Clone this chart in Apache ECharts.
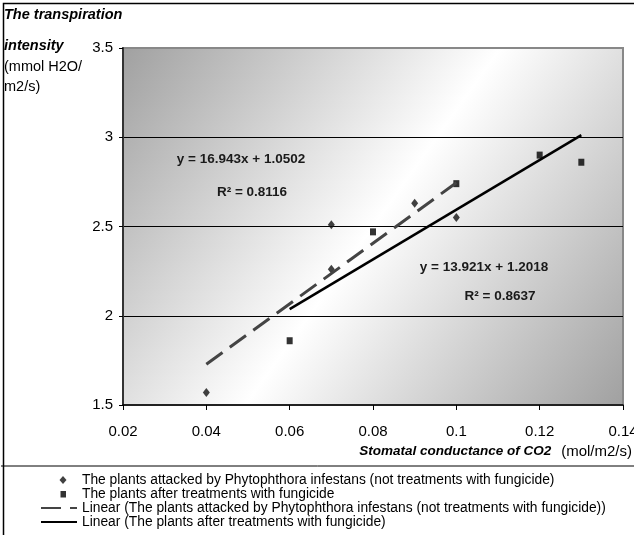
<!DOCTYPE html>
<html><head><meta charset="utf-8">
<script src="https://cdn.jsdelivr.net/npm/echarts@6/dist/echarts.min.js"></script>
<style>html,body{margin:0;padding:0;background:#fff}#c{width:634px;height:535px}</style>
</head><body><div id="c"></div><script>
// Data
const attackedX = [0.04, 0.07, 0.07, 0.09, 0.10];
const attackedY = [1.57, 2.51, 2.26, 2.63, 2.55];
const treatedX = [0.06, 0.08, 0.10, 0.12, 0.13];
const treatedY = [1.86, 2.47, 2.74, 2.90, 2.86];
const trendAttackedX = [0.04, 0.10];
const trendAttackedY = [1.728, 2.745];
const trendTreatedX = [0.06, 0.13];
const trendTreatedY = [2.037, 3.012];
const xTicks = [0.02, 0.04, 0.06, 0.08, 0.1, 0.12, 0.14];
const yTicks = [1.5, 2, 2.5, 3, 3.5];
const seriesNames = [
  'The plants attacked by Phytophthora infestans (not treatments with fungicide)',
  'The plants after treatments with fungicide',
  'Linear (The plants attacked by Phytophthora infestans (not treatments with fungicide))',
  'Linear (The plants after treatments with fungicide)'
];
const yTitleLines = ['The transpiration', 'intensity', '(mmol H2O/', 'm2/s)'];
const xTitleParts = ['Stomatal conductance of CO2', '(mol/m2/s)'];
const eq1 = ['y = 16.943x + 1.0502', 'R² = 0.8116'];
const eq2 = ['y = 13.921x + 1.2018', 'R² = 0.8637'];

const FONT = "'Liberation Sans', Arial, sans-serif";
const zip = (xs, ys) => xs.map((x, i) => [x, ys[i]]);
const eqStyle = t => ({text: t, align: 'center', verticalAlign: 'middle', fontFamily: FONT, fontSize: 13.5, fontWeight: 'bold', fill: '#1a1a1a'});
const yTitle = (t, y, bold) => ({type: 'text', x: 4, y: y, silent: true,
  style: {text: t, verticalAlign: 'middle', fontFamily: FONT, fontSize: 14.5,
    fontWeight: bold ? 'bold' : 'normal', fontStyle: bold ? 'italic' : 'normal', fill: '#000'}});

const chart = echarts.init(document.getElementById('c'), null, {renderer: 'canvas'});
chart.setOption({
  animation: false,
  textStyle: {fontFamily: FONT},
  grid: {
    left: 123, top: 48, right: 11, bottom: 130,
    outerBoundsMode: 'none',
    containLabel: false,
    show: true,
    borderColor: '#888',
    borderWidth: 2,
    backgroundColor: new echarts.graphic.LinearGradient(0, 0, 1, 1, [
      {offset: 0, color: '#a0a0a0'},
      {offset: 0.5, color: '#ffffff'},
      {offset: 1, color: '#a0a0a0'}
    ])
  },
  xAxis: {
    type: 'value', min: xTicks[0], max: xTicks[xTicks.length - 1], interval: 0.02,
    axisLine: {show: true, onZero: false, lineStyle: {color: '#000', width: 1.5}},
    axisTick: {show: true, length: 5, lineStyle: {color: '#000'}},
    axisLabel: {fontFamily: FONT, fontSize: 15, color: '#000', margin: 19,
      hideOverlap: false, showMaxLabel: true, showMinLabel: true,
      formatter: v => String(parseFloat(v.toFixed(3)))},
    splitLine: {show: false}
  },
  yAxis: {
    type: 'value', min: yTicks[0], max: yTicks[yTicks.length - 1], interval: 0.5,
    axisLine: {show: true, onZero: false, lineStyle: {color: '#333', width: 2}},
    axisTick: {show: true, length: 4, lineStyle: {color: '#000'}},
    axisLabel: {fontFamily: FONT, fontSize: 15, color: '#000', margin: 10,
      formatter: v => String(parseFloat(v.toFixed(2)))},
    splitLine: {show: true, showMinLine: false, showMaxLine: false, lineStyle: {color: '#000', width: 1}}
  },
  legend: {
    type: 'plain', orient: 'vertical', left: 40, top: 473, padding: 0,
    itemWidth: 36, itemHeight: 8, itemGap: 0,
    textStyle: {fontFamily: FONT, fontSize: 13.8, color: '#000', lineHeight: 14},
    data: [
      {name: seriesNames[0], icon: 'path://M0 0M36 8M22 0L25.5 4L22 8L18.5 4Z'},
      {name: seriesNames[1], icon: 'path://M0 0M36 8M19.5 1L25 1L25 7.5L19.5 7.5Z'},
      {name: seriesNames[2], itemStyle: {opacity: 0}, lineStyle: {type: [20, 9]}},
      {name: seriesNames[3], itemStyle: {opacity: 0}}
    ]
  },
  series: [
    {name: seriesNames[0], type: 'scatter', data: zip(attackedX, attackedY),
      symbol: 'diamond', symbolSize: [7, 9], itemStyle: {color: '#111'}, z: 3},
    {name: seriesNames[1], type: 'scatter', data: zip(treatedX, treatedY),
      symbol: 'rect', symbolSize: [6, 7], itemStyle: {color: '#000'}, z: 3},
    {name: seriesNames[2], type: 'line', data: zip(trendAttackedX, trendAttackedY),
      symbol: 'none', lineStyle: {color: '#444', width: 3, type: [20, 9]}, itemStyle: {color: '#444'}, z: 4},
    {name: seriesNames[3], type: 'line', data: zip(trendTreatedX, trendTreatedY),
      symbol: 'none', lineStyle: {color: '#000', width: 2.5}, itemStyle: {color: '#000'}, z: 4}
  ],
  graphic: [
    {type: 'rect', left: 1, top: 1, z: -10, silent: true,
      shape: {width: 700, height: 600}, style: {fill: 'none', stroke: '#000', lineWidth: 1.5}},
    {type: 'line', silent: true, shape: {x1: 1, y1: 466, x2: 634, y2: 466},
      style: {stroke: '#000', lineWidth: 1}},
    yTitle(yTitleLines[0], 15, true),
    yTitle(yTitleLines[1], 46, true),
    yTitle(yTitleLines[2], 67, false),
    yTitle(yTitleLines[3], 87, false),
    {type: 'text', right: 2, top: 444, silent: true,
      style: {text: '{bi|' + xTitleParts[0] + '}   {n|' + xTitleParts[1] + '}',
        rich: {
          bi: {fontFamily: FONT, fontSize: 13.5, fontWeight: 'bold', fontStyle: 'italic', fill: '#000'},
          n: {fontFamily: FONT, fontSize: 15, fill: '#000'}
        }}},
    {type: 'text', x: 241, y: 159, silent: true, style: eqStyle(eq1[0])},
    {type: 'text', x: 252, y: 192, silent: true, style: eqStyle(eq1[1])},
    {type: 'text', x: 484, y: 267, silent: true, style: eqStyle(eq2[0])},
    {type: 'text', x: 500, y: 296, silent: true, style: eqStyle(eq2[1])}
  ]
});
</script></body></html>
